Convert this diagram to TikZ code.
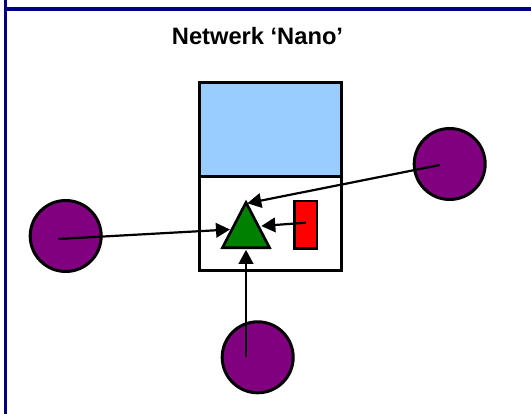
\documentclass[tikz,border=0pt]{standalone}
\usepackage{fontspec}
\setmainfont{Liberation Sans}
\usetikzlibrary{arrows.meta}
\definecolor{framenavy}{HTML}{000080}
\definecolor{skyfill}{HTML}{99CCFF}
\definecolor{trigreen}{HTML}{008000}
\definecolor{nodepurple}{HTML}{800080}
\definecolor{blockred}{HTML}{FF0000}
\tikzset{
  halfbox/.style={draw=black, line width=2.7pt, minimum width=141.5pt, minimum height=94pt, inner sep=0pt, outer sep=0pt},
  peer/.style={circle, draw=black, fill=nodepurple, line width=3pt, minimum size=71pt, inner sep=0pt},
  sensor/.style={draw=black, fill=blockred, line width=2.5pt, minimum width=22.5pt, minimum height=47.5pt, inner sep=0pt},
  link/.style={line width=2.2pt, -{Triangle[length=14pt,width=14.5pt]}},
}
\begin{document}
\begin{tikzpicture}[x=1pt, y=-1pt]
  \useasboundingbox (0,0) rectangle (531,414);
  % frame lines along the left and top edges
  \draw[framenavy, line width=3.3pt] (5.5,0) -- (5.5,414);
  \draw[framenavy, line width=3.3pt] (4,9) -- (531,9);

  % title
  \node[anchor=base, inner sep=0pt, font=\fontsize{23.7}{28}\selectfont\bfseries] (title) at (257.5,45) {Netwerk ‘Nano’};

  % node box: upper and lower compartments
  \node[halfbox, fill=skyfill] (upper) at (270.4,129.75) {};
  \node[halfbox, fill=white] (lower) at (270.4,223.7) {};

  % red block inside the lower compartment
  \node[sensor] (block) at (305.5,224.6) {};

  % green triangle
  \coordinate (apex) at (246,202.5);
  \coordinate (baseL) at (222.5,247.7);
  \coordinate (baseR) at (269.5,247.7);
  \draw[fill=trigreen, line width=2.7pt, line join=miter] (apex) -- (baseL) -- (baseR) -- cycle;

  % purple peers
  \node[peer] (west) at (65.7,236) {};
  \node[peer] (east) at (449.7,164) {};
  \node[peer] (south) at (257.7,357.3) {};

  % arrow endpoints
  \coordinate (westOut) at (58.3,239);
  \coordinate (eastOut) at (440,165);
  \coordinate (southOut) at (246,357);
  \coordinate (blockOut) at (306,222.7);
  \coordinate (hitL) at (230,229.5);
  \coordinate (hitTop) at (247.3,203.3);
  \coordinate (hitR) at (261.3,226);
  \coordinate (hitB) at (246,249.8);

  \draw[link] (westOut) -- (hitL);
  \draw[link] (eastOut) -- (hitTop);
  \draw[link] (southOut) -- (hitB);
  \draw[link] (blockOut) -- (hitR);
\end{tikzpicture}
\end{document}
